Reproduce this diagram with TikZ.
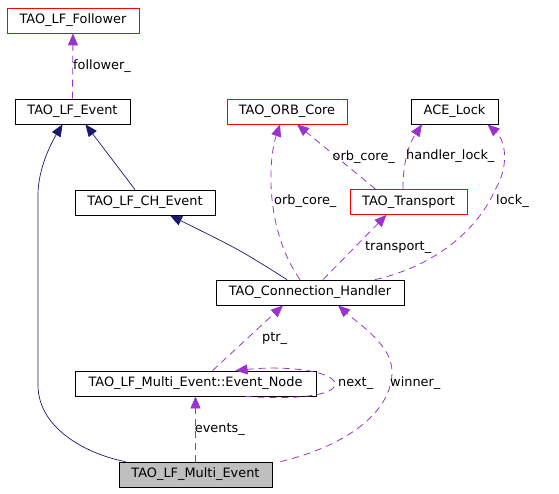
\documentclass[tikz,border=0pt]{standalone}
\usepackage{fontspec}
\setmainfont{DejaVu Sans}
\usetikzlibrary{arrows.meta}
\definecolor{orchid}{HTML}{9A32CD}
\definecolor{navy}{HTML}{191970}
\tikzset{>={Triangle[length=12pt,width=10pt]}}
\tikzset{
  cls/.style = {draw, line width=0.8pt, minimum height=25pt, inner sep=0pt,
    font=\fontsize{12.9}{14}\selectfont},
  undoc/.style = {cls, draw=red},
  self/.style = {cls, fill=black!25},
  inherit/.style = {->, navy, line width=0.7pt},
  usage/.style = {->, orchid, line width=0.8pt, dash pattern=on 7pt off 5pt},
  lbl/.style = {anchor=west, inner sep=0pt, text=black, font=\fontsize{12.9}{14}\selectfont}
}

\begin{document}
\begin{tikzpicture}[x=1pt,y=-1pt]
  \useasboundingbox (0,0) rectangle (559,493);
  % classes
  \node[undoc, minimum width=132pt] (fol) at (73,20.5) {TAO\_LF\_Follower};
  \node[cls, minimum width=115pt] (evt) at (72.5,111.5) {TAO\_LF\_Event};
  \node[undoc, minimum width=120pt] (orb) at (287,111.5) {TAO\_ORB\_Core};
  \node[cls, minimum width=87pt] (lock) at (454.5,111.5) {ACE\_Lock};
  \node[cls, minimum width=140pt] (chev) at (145,202.5) {TAO\_LF\_CH\_Event};
  \node[undoc, minimum width=117pt] (trans) at (408.5,202) {TAO\_Transport};
  \node[cls, minimum width=188pt] (conn) at (310,292.5) {TAO\_Connection\_Handler};
  \node[cls, minimum width=241pt] (enode) at (195.5,383.5) {TAO\_LF\_Multi\_Event::Event\_Node};
  \node[self, minimum width=153pt] (mev) at (195.5,474.5) {TAO\_LF\_Multi\_Event};
  % inheritance
  \draw[inherit] ([xshift=-10pt]chev.north) -- ([xshift=13pt]evt.south);
  \draw[inherit] ([xshift=-70pt]mev.north) .. controls (90,455) and (38,430) .. (38,385)
    -- (38,195) .. controls (38,170) and (50,145) .. ([xshift=-10pt]evt.south);
  \draw[inherit] ([xshift=-23pt]conn.north) .. controls (240,250) .. ([xshift=25pt]chev.south);
  % members
  \draw[usage] (evt.north) -- node[lbl] {follower\_} (fol.south);
  \draw[usage] ([xshift=-10pt]conn.north) .. controls (265,230) and (268,160) .. ([xshift=-7pt]orb.south);
  \node[lbl] (orblbl) at (274,201) {orb\_core\_};
  \draw[usage] ([xshift=-33pt]trans.north) -- node[lbl, xshift=-4pt] {orb\_core\_} ([xshift=10pt]orb.south);
  \draw[usage] ([xshift=-5.5pt]trans.north) .. controls (403,150) and (415,135) .. ([xshift=-32.5pt]lock.south);
  \node[lbl] (hlocklbl) at (406,156) {handler\_lock\_};
  \draw[usage] ([xshift=65pt]conn.north) .. controls (440,265) and (480,225) .. (495,190)
    .. controls (510,165) and (505,140) .. ([xshift=33pt]lock.south);
  \node[lbl] (locklbl) at (496,201) {lock\_};
  \draw[usage] ([xshift=13pt]conn.north) -- node[lbl, xshift=10pt] {transport\_} ([xshift=-22pt]trans.south);
  \draw[usage] ([xshift=17pt]enode.north) -- node[lbl, xshift=14pt] {ptr\_} ([xshift=-27pt]conn.south);
  \draw[usage] ([xshift=50pt]enode.south) .. controls (300,400) and (335,395) .. (335,384)
    .. controls (335,372) and (290,365) .. ([xshift=40pt]enode.north);
  \node[lbl] (nextlbl) at (338,383) {next\_};
  \draw[usage] ([xshift=85pt]mev.north) .. controls (350,445) and (392,410) .. (392,372)
    .. controls (392,345) and (360,325) .. ([xshift=28pt]conn.south);
  \node[lbl] (winlbl) at (390,383) {winner\_};
  \draw[usage] (mev.north) -- node[lbl, xshift=-1pt] {events\_} (enode.south);
\end{tikzpicture}
\end{document}
